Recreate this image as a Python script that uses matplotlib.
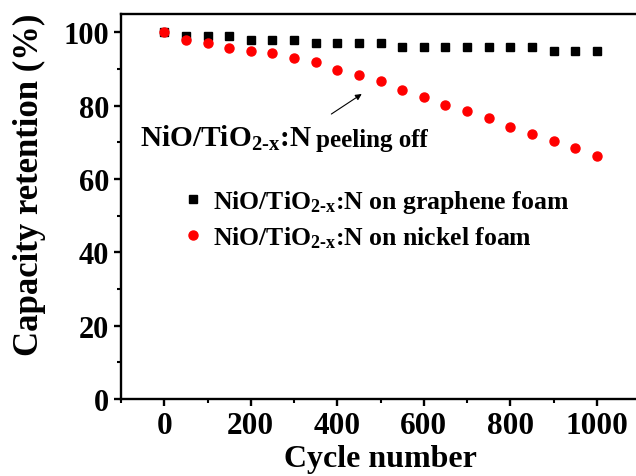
import numpy as np
import matplotlib
matplotlib.use('Agg')
import matplotlib.pyplot as plt
from matplotlib.ticker import MultipleLocator

# data
cycles = [0, 50, 100, 150, 200, 250, 300, 350, 400, 450, 500,
          550, 600, 650, 700, 750, 800, 850, 900, 950, 1000]
graphene_foam = [100, 99, 99, 99, 98, 98, 98, 97, 97, 97, 97,
                 96, 96, 96, 96, 96, 96, 96, 95, 95, 95]
nickel_foam = [100, 98.0, 97.0, 95.7, 95.0, 94.4, 92.9, 92.0, 89.8, 88.4, 86.7,
               84.4, 82.3, 80.2, 78.5, 76.6, 74.3, 72.3, 70.4, 68.5, 66.3]

formula = 'NiO/TiO$_{2\u2010x}$:N'
label_gf = formula + ' on graphene foam'
label_nf = formula + ' on nickel foam'

STYLE = {
    'font.family': 'Liberation Serif',
    'font.weight': 'bold',
    'mathtext.fontset': 'custom',
    'mathtext.rm': 'Liberation Serif:bold',
    'mathtext.it': 'Liberation Serif:bold',
    'mathtext.bf': 'Liberation Serif:bold',
    'mathtext.default': 'rm',
    'axes.linewidth': 1.7,
    'xtick.major.width': 1.7,
    'ytick.major.width': 1.7,
    'xtick.minor.width': 1.5,
    'ytick.minor.width': 1.5,
    'xtick.major.size': 5.3,
    'ytick.major.size': 5.3,
    'xtick.minor.size': 3,
    'ytick.minor.size': 3,
}

with plt.rc_context(STYLE):
    fig = plt.figure(figsize=(6.36, 4.77), dpi=100)
    ax = fig.add_axes([121 / 636, 77 / 477, 519 / 636, 385 / 477])

    ax.plot(cycles, graphene_foam, 's', color='black', markersize=5.8,
            linestyle='none', label=label_gf)
    ax.plot(cycles, nickel_foam, 'o', color='red', markersize=6.5,
            linestyle='none', label=label_nf)

    ax.set_xlim(-100, 1100)
    ax.set_ylim(0, 105)
    ax.xaxis.set_major_locator(MultipleLocator(200))
    ax.xaxis.set_minor_locator(MultipleLocator(100))
    ax.yaxis.set_major_locator(MultipleLocator(20))
    ax.yaxis.set_minor_locator(MultipleLocator(10))
    ax.tick_params(which='both', direction='out', top=False, right=False)
    ax.tick_params(axis='x', labelsize=22.5, pad=3)
    ax.tick_params(axis='y', labelsize=22, pad=3)
    ax.spines['right'].set_visible(False)

    ax.set_xlabel('Cycle number', fontsize=23, fontweight='bold')
    ax.xaxis.set_label_coords(0.5, -0.118)
    ax.set_ylabel('Capacity retention (%)', fontsize=25, fontweight='bold')
    ax.yaxis.set_label_coords(-0.145, 0.558)

    ax.annotate('', xy=(462, 83.6), xytext=(381, 77.3),
                arrowprops=dict(arrowstyle='-|>', color='black', lw=0.8,
                                mutation_scale=9))
    t1 = ax.text(-57, 69.0, formula, fontsize=21.2, fontweight='bold',
                 va='baseline', ha='left')
    ax.annotate('peeling off', xy=(1, 69.0), xycoords=(t1, 'data'),
                xytext=(3, 0), textcoords='offset points',
                fontsize=18, fontweight='bold', va='baseline', ha='left')

    leg = ax.legend(loc='upper left', bbox_to_anchor=(0.094, 0.574),
                    frameon=False, fontsize=18.5, handletextpad=0.3,
                    handlelength=1.0, borderaxespad=0, labelspacing=0.34)

    fig.savefig('out.png', dpi=100)
